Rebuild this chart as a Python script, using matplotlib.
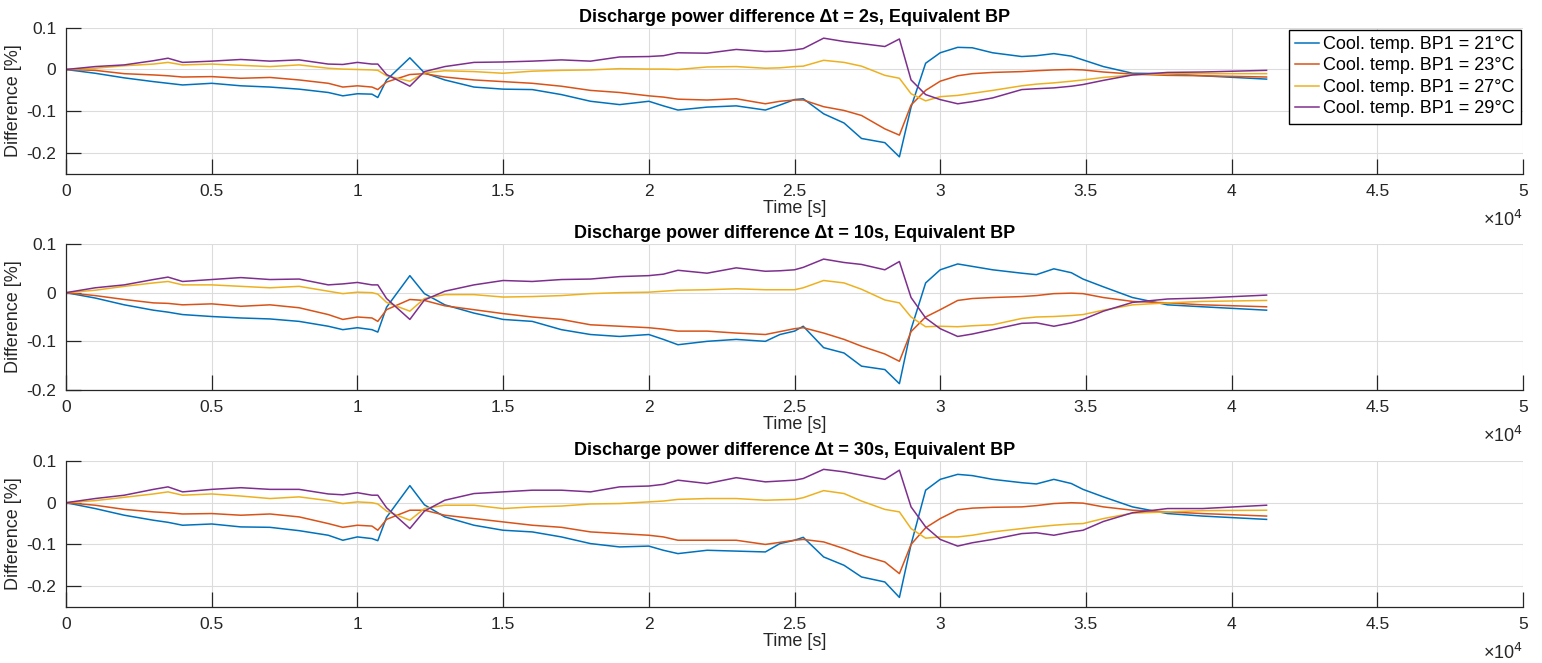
import matplotlib
matplotlib.use("Agg")
import matplotlib.pyplot as plt
from matplotlib.ticker import FuncFormatter, MultipleLocator

plt.rcParams["font.family"] = ["Liberation Sans", "DejaVu Sans"]
plt.rcParams["axes.unicode_minus"] = False

# Common time base [s]
time_s = [0, 1000, 2000, 3000, 3500, 4000, 5000, 6000, 7000, 8000,
          9000, 9500, 10000, 10500, 10700, 11000, 11800, 12300, 13000, 14000,
          15000, 16000, 17000, 18000, 19000, 20000, 20500, 21000, 22000, 23000,
          24000, 24500, 25000, 25300, 26000, 26700, 27300, 28100, 28600, 29000,
          29500, 30000, 30600, 31100, 31800, 32800, 33300, 33900, 34500, 34900,
          35600, 36600, 37800, 39000, 41200]

# Discharge power difference [%], sample step 2 s
dt2_21 = [0, -0.009, -0.020, -0.029, -0.033, -0.037, -0.033, -0.039, -0.042, -0.047,
          -0.055, -0.063, -0.058, -0.059, -0.067, -0.025, 0.028, -0.008, -0.025, -0.042,
          -0.047, -0.048, -0.060, -0.076, -0.084, -0.076, -0.087, -0.097, -0.090, -0.087,
          -0.097, -0.085, -0.072, -0.070, -0.106, -0.128, -0.165, -0.175, -0.209, -0.090,
          0.015, 0.040, 0.053, 0.052, 0.040, 0.031, 0.033, 0.038, 0.032, 0.023,
          0.007, -0.009, -0.010, -0.015, -0.023]
dt2_23 = [0, -0.002, -0.010, -0.013, -0.015, -0.018, -0.017, -0.021, -0.019, -0.025,
          -0.033, -0.042, -0.039, -0.042, -0.048, -0.030, -0.012, -0.010, -0.018, -0.025,
          -0.029, -0.033, -0.040, -0.050, -0.055, -0.063, -0.066, -0.071, -0.073, -0.070,
          -0.082, -0.076, -0.073, -0.073, -0.089, -0.098, -0.110, -0.142, -0.157, -0.085,
          -0.050, -0.028, -0.015, -0.010, -0.007, -0.005, -0.003, -0.001, 0.000, -0.001,
          -0.006, -0.011, -0.014, -0.015, -0.018]
dt2_27 = [0, 0.003, 0.009, 0.013, 0.017, 0.011, 0.013, 0.010, 0.007, 0.011,
          0.003, 0.001, 0.000, -0.001, -0.002, -0.015, -0.028, -0.008, -0.003, -0.005,
          -0.009, -0.004, -0.002, -0.001, 0.002, 0.001, 0.001, 0.000, 0.006, 0.007,
          0.003, 0.004, 0.007, 0.008, 0.022, 0.017, 0.008, -0.014, -0.021, -0.058,
          -0.075, -0.065, -0.062, -0.057, -0.050, -0.039, -0.035, -0.032, -0.028, -0.025,
          -0.019, -0.013, -0.010, -0.010, -0.010]
dt2_29 = [0, 0.007, 0.011, 0.021, 0.027, 0.017, 0.020, 0.024, 0.020, 0.023,
          0.013, 0.012, 0.017, 0.013, 0.013, -0.012, -0.040, -0.005, 0.007, 0.017,
          0.018, 0.020, 0.023, 0.020, 0.030, 0.031, 0.033, 0.040, 0.039, 0.048,
          0.043, 0.044, 0.047, 0.050, 0.075, 0.067, 0.062, 0.055, 0.073, -0.025,
          -0.060, -0.072, -0.082, -0.077, -0.068, -0.048, -0.046, -0.044, -0.040, -0.036,
          -0.026, -0.013, -0.007, -0.006, -0.002]

# Sample step 10 s
dt10_21 = [0, -0.011, -0.025, -0.036, -0.040, -0.045, -0.049, -0.052, -0.054, -0.059,
           -0.069, -0.076, -0.072, -0.076, -0.081, -0.030, 0.035, -0.002, -0.025, -0.042,
           -0.055, -0.059, -0.076, -0.086, -0.090, -0.086, -0.096, -0.107, -0.100, -0.096,
           -0.100, -0.086, -0.079, -0.069, -0.113, -0.124, -0.151, -0.158, -0.187, -0.075,
           0.020, 0.047, 0.059, 0.054, 0.047, 0.040, 0.037, 0.049, 0.041, 0.028,
           0.012, -0.010, -0.025, -0.029, -0.036]
dt10_23 = [0, -0.006, -0.014, -0.021, -0.022, -0.025, -0.023, -0.028, -0.025, -0.031,
           -0.045, -0.055, -0.050, -0.052, -0.059, -0.035, -0.014, -0.016, -0.027, -0.035,
           -0.043, -0.050, -0.055, -0.066, -0.069, -0.072, -0.075, -0.079, -0.079, -0.083,
           -0.086, -0.080, -0.074, -0.072, -0.083, -0.096, -0.110, -0.126, -0.141, -0.080,
           -0.050, -0.035, -0.016, -0.012, -0.010, -0.008, -0.006, -0.002, -0.001, -0.002,
           -0.010, -0.018, -0.021, -0.025, -0.029]
dt10_27 = [0, 0.005, 0.013, 0.020, 0.023, 0.016, 0.016, 0.013, 0.010, 0.013,
           0.003, -0.002, 0.001, 0.000, -0.003, -0.020, -0.038, -0.012, -0.004, -0.004,
           -0.009, -0.008, -0.006, -0.002, 0.000, 0.001, 0.003, 0.005, 0.006, 0.008,
           0.006, 0.006, 0.006, 0.010, 0.025, 0.020, 0.007, -0.015, -0.021, -0.050,
           -0.070, -0.069, -0.070, -0.068, -0.066, -0.053, -0.050, -0.049, -0.047, -0.045,
           -0.036, -0.025, -0.021, -0.018, -0.016]
dt10_29 = [0, 0.010, 0.016, 0.027, 0.032, 0.023, 0.027, 0.031, 0.027, 0.028,
           0.016, 0.018, 0.021, 0.016, 0.016, -0.012, -0.055, -0.015, 0.003, 0.016,
           0.025, 0.023, 0.027, 0.028, 0.033, 0.035, 0.038, 0.046, 0.040, 0.051,
           0.044, 0.045, 0.047, 0.052, 0.069, 0.062, 0.058, 0.047, 0.064, -0.010,
           -0.052, -0.074, -0.090, -0.085, -0.076, -0.063, -0.062, -0.069, -0.062, -0.055,
           -0.038, -0.020, -0.013, -0.011, -0.005]

# Sample step 30 s
dt30_21 = [0, -0.014, -0.030, -0.042, -0.047, -0.054, -0.051, -0.058, -0.059, -0.067,
           -0.078, -0.090, -0.082, -0.086, -0.091, -0.035, 0.041, -0.005, -0.034, -0.054,
           -0.066, -0.070, -0.082, -0.098, -0.106, -0.104, -0.114, -0.122, -0.114, -0.116,
           -0.118, -0.098, -0.090, -0.083, -0.130, -0.150, -0.178, -0.190, -0.227, -0.100,
           0.030, 0.056, 0.068, 0.065, 0.056, 0.048, 0.045, 0.056, 0.046, 0.032,
           0.014, -0.010, -0.026, -0.032, -0.040]
dt30_23 = [0, -0.006, -0.016, -0.022, -0.024, -0.027, -0.026, -0.030, -0.027, -0.034,
           -0.050, -0.059, -0.054, -0.056, -0.066, -0.040, -0.018, -0.018, -0.030, -0.038,
           -0.046, -0.054, -0.059, -0.070, -0.074, -0.078, -0.082, -0.090, -0.090, -0.090,
           -0.100, -0.095, -0.090, -0.088, -0.094, -0.110, -0.126, -0.142, -0.170, -0.100,
           -0.060, -0.038, -0.017, -0.013, -0.011, -0.010, -0.007, -0.002, 0.000, -0.001,
           -0.010, -0.018, -0.022, -0.026, -0.032]
dt30_27 = [0, 0.005, 0.013, 0.021, 0.026, 0.018, 0.021, 0.016, 0.010, 0.014,
           0.005, -0.002, 0.002, 0.000, -0.003, -0.020, -0.042, -0.014, -0.006, -0.006,
           -0.014, -0.010, -0.008, -0.003, -0.002, 0.002, 0.004, 0.008, 0.010, 0.010,
           0.006, 0.007, 0.008, 0.012, 0.029, 0.022, 0.004, -0.016, -0.022, -0.062,
           -0.085, -0.082, -0.082, -0.078, -0.070, -0.062, -0.058, -0.054, -0.051, -0.050,
           -0.038, -0.025, -0.022, -0.019, -0.018]
dt30_29 = [0, 0.010, 0.018, 0.032, 0.038, 0.026, 0.032, 0.036, 0.032, 0.032,
           0.021, 0.019, 0.024, 0.018, 0.018, -0.012, -0.062, -0.020, 0.006, 0.022,
           0.026, 0.030, 0.030, 0.026, 0.038, 0.040, 0.044, 0.054, 0.046, 0.060,
           0.050, 0.052, 0.054, 0.058, 0.080, 0.074, 0.066, 0.056, 0.078, -0.010,
           -0.058, -0.088, -0.104, -0.096, -0.088, -0.074, -0.072, -0.078, -0.070, -0.066,
           -0.045, -0.024, -0.014, -0.014, -0.006]

legend_labels = ["Cool. temp. BP1 = 21°C", "Cool. temp. BP1 = 23°C",
                 "Cool. temp. BP1 = 27°C", "Cool. temp. BP1 = 29°C"]
titles = ["Discharge power difference Δt = 2s, Equivalent BP",
          "Discharge power difference Δt = 10s, Equivalent BP",
          "Discharge power difference Δt = 30s, Equivalent BP"]
panels = [[dt2_21, dt2_23, dt2_27, dt2_29],
          [dt10_21, dt10_23, dt10_27, dt10_29],
          [dt30_21, dt30_23, dt30_27, dt30_29]]
ylims = [(-0.25, 0.1), (-0.2, 0.1), (-0.25, 0.1)]

colors = ["#0072BD", "#D95319", "#EDB120", "#7E2F8E"]
axis_color = "#262626"
W, H = 1542, 663
fig = plt.figure(figsize=(W / 100, H / 100), dpi=100)

# axes boxes in pixels: (left, top, right, bottom)
boxes = [(66, 27.7, 1523, 174), (66, 244, 1523, 390), (66, 461, 1523, 607)]

for k, (series, title, ylim, box) in enumerate(zip(panels, titles, ylims, boxes)):
    l, t, r, b = box
    ax = fig.add_axes([l / W, 1 - b / H, (r - l) / W, (b - t) / H])
    for vals, c, lab in zip(series, colors, legend_labels):
        ax.plot(time_s, vals, color=c, lw=1.1, label=lab)
    ax.set_xlim(0, 50000)
    ax.set_ylim(*ylim)
    ax.xaxis.set_major_locator(MultipleLocator(5000))
    ax.yaxis.set_major_locator(MultipleLocator(0.1))
    ax.xaxis.set_major_formatter(FuncFormatter(lambda v, p: f"{v / 1e4:g}"))
    ax.yaxis.set_major_formatter(FuncFormatter(lambda v, p: f"{round(v, 2):g}"))
    ax.grid(True, color="#dcdcdc", lw=0.8)
    ax.set_axisbelow(True)
    for s in ("top", "right"):
        ax.spines[s].set_visible(False)
    for s in ("left", "bottom"):
        ax.spines[s].set_color(axis_color)
        ax.spines[s].set_linewidth(0.9)
    ax.tick_params(direction="in", length=10.5, width=0.9, color=axis_color,
                   labelsize=12.5, labelcolor=axis_color, pad=7)
    ax.set_title(title, fontsize=13, fontweight="bold", pad=4, color="black")
    ax.set_xlabel("Time [s]", fontsize=13, labelpad=1, color=axis_color)
    ax.set_ylabel("Difference [%]", fontsize=13, labelpad=3, color=axis_color)
    ax.annotate("×10$^{4}$", xy=(1.0, 0.0), xycoords="axes fraction",
                xytext=(0, -33), textcoords="offset points",
                ha="right", va="center", fontsize=13, color=axis_color)
    if k == 0:
        leg = ax.legend(loc="upper right", bbox_to_anchor=(1.0, 1.0),
                        fontsize=13, frameon=True, fancybox=False,
                        framealpha=1, edgecolor="black", borderaxespad=0.1,
                        handlelength=1.3, handletextpad=0.25, labelspacing=0.25,
                        borderpad=0.35)
        leg.get_frame().set_linewidth(1.0)

fig.savefig("out.png", dpi=100, facecolor="white")
